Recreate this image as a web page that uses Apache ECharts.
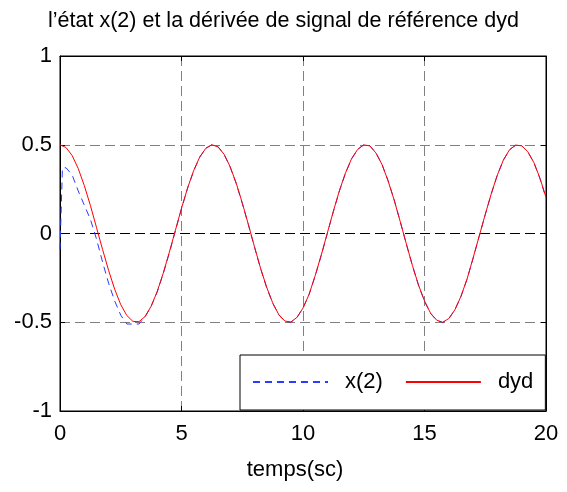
<!DOCTYPE html>
<html>
<head>
<meta charset="utf-8">
<script src="https://cdn.jsdelivr.net/npm/echarts@6/dist/echarts.min.js"></script>
<style>
  html, body { margin: 0; padding: 0; background: #fff; }
  #chart { width: 567px; height: 492px; }
</style>
</head>
<body>
<div id="chart"></div>
<script>
// temps (s) et valeurs
var tempsDyd = [0, 0.25, 0.5, 0.75, 1, 1.25, 1.5, 1.75, 2, 2.25, 2.5, 2.75, 3, 3.25, 3.5, 3.75,
    4, 4.25, 4.5, 4.75, 5, 5.25, 5.5, 5.75, 6, 6.25, 6.5, 6.75, 7, 7.25, 7.5, 7.75,
    8, 8.25, 8.5, 8.75, 9, 9.25, 9.5, 9.75, 10, 10.25, 10.5, 10.75, 11, 11.25, 11.5, 11.75,
    12, 12.25, 12.5, 12.75, 13, 13.25, 13.5, 13.75, 14, 14.25, 14.5, 14.75, 15, 15.25, 15.5, 15.75,
    16, 16.25, 16.5, 16.75, 17, 17.25, 17.5, 17.75, 18, 18.25, 18.5, 18.75, 19, 19.25, 19.5, 19.75, 20];
var dyd = [0.5, 0.484, 0.439, 0.366, 0.27, 0.158, 0.035, -0.089, -0.208, -0.314, -0.401, -0.462, -0.495, -0.497, -0.468, -0.41,
    -0.327, -0.223, -0.105, 0.019, 0.142, 0.256, 0.354, 0.431, 0.48, 0.5, 0.488, 0.447, 0.377, 0.284, 0.173, 0.052,
    -0.073, -0.194, -0.301, -0.39, -0.456, -0.493, -0.499, -0.473, -0.42, -0.343, -0.238, -0.122, 0.002, 0.126, 0.242, 0.342,
    0.422, 0.474, 0.499, 0.494, 0.454, 0.389, 0.297, 0.189, 0.068, -0.057, -0.179, -0.289, -0.38, -0.449, -0.488, -0.5,
    -0.479, -0.43, -0.354, -0.257, -0.138, -0.015, 0.108, 0.225, 0.33, 0.415, 0.472, 0.498, 0.494, 0.461, 0.4, 0.312, 0.204];

var tempsX2 = [0, 0.1, 0.25, 0.5, 0.75, 1, 1.25, 1.5, 1.75, 2, 2.25, 2.5, 2.75, 3, 3.25, 3.5, 3.75,
    4, 4.25, 4.5, 4.75, 5, 5.25, 5.5, 5.75, 6, 6.25, 6.5, 6.75, 7, 7.25, 7.5, 7.75,
    8, 8.25, 8.5, 8.75, 9, 9.25, 9.5, 9.75, 10, 10.25, 10.5, 10.75, 11, 11.25, 11.5, 11.75,
    12, 12.25, 12.5, 12.75, 13, 13.25, 13.5, 13.75, 14, 14.25, 14.5, 14.75, 15, 15.25, 15.5, 15.75,
    16, 16.25, 16.5, 16.75, 17, 17.25, 17.5, 17.75, 18, 18.25, 18.5, 18.75, 19, 19.25, 19.5, 19.75, 20];
var x2 = [-0.09, 0.37, 0.37, 0.33, 0.24, 0.16, 0.08, -0.03, -0.16, -0.28, -0.38, -0.46, -0.51, -0.51, -0.51, -0.47, -0.41,
    -0.33, -0.225, -0.11, 0.015, 0.14, 0.255, 0.352, 0.43, 0.48, 0.5, 0.49, 0.447, 0.375, 0.282, 0.17, 0.05,
    -0.075, -0.196, -0.303, -0.392, -0.458, -0.495, -0.5, -0.474, -0.42, -0.343, -0.24, -0.124, 0, 0.124, 0.24, 0.34,
    0.42, 0.474, 0.5, 0.494, 0.455, 0.39, 0.298, 0.19, 0.068, -0.058, -0.18, -0.29, -0.382, -0.45, -0.49, -0.502,
    -0.48, -0.43, -0.355, -0.258, -0.14, -0.016, 0.106, 0.224, 0.33, 0.414, 0.472, 0.498, 0.495, 0.46, 0.4, 0.31, 0.2];

function paires(t, v) {
    return t.map(function (ti, i) { return [ti, v[i]]; });
}

var police = "'Liberation Sans', Arial, sans-serif";

var myChart = echarts.init(document.getElementById('chart'));

var grilleX = { show: true, lineStyle: { color: '#808080', type: [10, 5], width: 1 } };
var grilleY = { show: true, lineStyle: { color: ['#808080', '#808080', '#000', '#808080', '#808080'], type: [10, 5], width: 1 } };

var option = {
    backgroundColor: '#fff',
    animation: false,
    title: {
        text: 'l\u2019état x(2) et la dérivée de signal de référence dyd',
        left: 'center',
        top: 5,
        textStyle: { fontFamily: police, fontSize: 21.5, fontWeight: 'normal', color: '#000' }
    },
    grid: {
        left: 60, right: 21, top: 56, bottom: 81,
        show: true, borderColor: '#000', borderWidth: 1, backgroundColor: '#fff'
    },
    legend: {
        left: 240, top: 355,
        padding: [16, 12, 17, 12],
        itemWidth: 75, itemHeight: 14, itemGap: 22,
        borderColor: '#000', borderWidth: 1, backgroundColor: '#fff',
        itemStyle: { opacity: 0 },
        textStyle: { fontFamily: police, fontSize: 22, color: '#000', padding: [0, 0, 0, 12] },
        data: ['x(2)', 'dyd']
    },
    xAxis: [{
        type: 'value', min: 0, max: 20, interval: 5,
        name: 'temps(sc)', nameLocation: 'middle', nameGap: 48,
        nameTextStyle: { fontFamily: police, fontSize: 22, color: '#000', padding: [0, 16, 0, 0] },
        axisLine: { onZero: false, lineStyle: { color: '#000' } },
        axisTick: { inside: true, length: 5, lineStyle: { color: '#000' } },
        axisLabel: { fontFamily: police, fontSize: 22, color: '#000', margin: 12 },
        splitLine: grilleX
    }, {
        type: 'value', min: 0, max: 20, interval: 5, position: 'top',
        axisLine: { onZero: false, lineStyle: { color: '#000' } },
        axisTick: { inside: true, length: 5, lineStyle: { color: '#000' } },
        axisLabel: { show: false }, splitLine: { show: false }
    }],
    yAxis: [{
        type: 'value', min: -1, max: 1, interval: 0.5,
        axisLine: { show: true, onZero: false, lineStyle: { color: '#000' } },
        axisTick: { show: true, inside: true, length: 5, lineStyle: { color: '#000' } },
        axisLabel: { fontFamily: police, fontSize: 22, color: '#000', margin: 8 },
        splitLine: grilleY
    }, {
        type: 'value', min: -1, max: 1, interval: 0.5, position: 'right',
        axisLine: { show: true, onZero: false, lineStyle: { color: '#000' } },
        axisTick: { show: true, inside: true, length: 5, lineStyle: { color: '#000' } },
        axisLabel: { show: false }, splitLine: { show: false }
    }],
    series: [
        {
            name: 'x(2)', type: 'line', symbol: 'none',
            data: paires(tempsX2, x2),
            itemStyle: { color: '#2a3cff' },
            lineStyle: { color: '#2a3cff', width: 1, type: [7, 5] },
            z: 3
        },
        {
            name: 'dyd', type: 'line', symbol: 'none',
            data: paires(tempsDyd, dyd),
            itemStyle: { color: '#ff0000' },
            lineStyle: { color: '#ff0000', width: 1 },
            z: 4
        }
    ]
};

myChart.setOption(option);
</script>
</body>
</html>
